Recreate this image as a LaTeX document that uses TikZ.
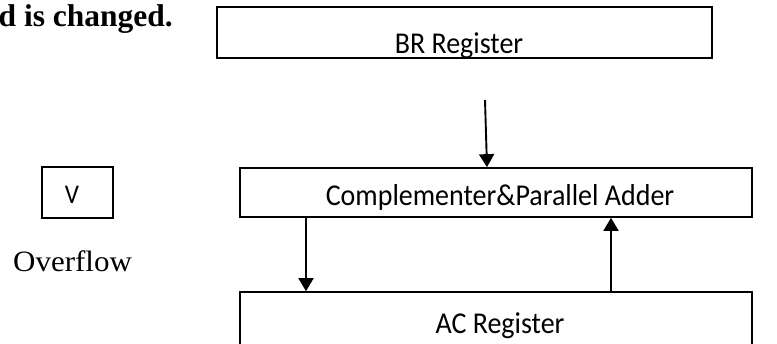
\documentclass[tikz,border=0pt]{standalone}
\usepackage{fontspec}
\setmainfont{Liberation Serif}
\newfontfamily\calib{Carlito}
\usetikzlibrary{arrows.meta}
\begin{document}
\begin{tikzpicture}[x=1pt,y=-1pt,
  box/.style={draw, line width=1.7pt, rectangle, inner sep=0pt},
  lbl/.style={anchor=base, inner sep=0pt, yscale=1.08, font=\calib\fontsize{28}{32}\selectfont},
  arr/.style={line width=1.9pt, -{Triangle[length=13pt,width=15pt]}}]
\useasboundingbox (0,0) rectangle (777,343);
\clip (0,0) rectangle (777,343);
% boxes
\node[box, minimum width=495pt, minimum height=51pt] (br) at (464.5,32.5) {};
\node[box, minimum width=512pt, minimum height=49pt] (comp) at (496,192.5) {};
\node[box, minimum width=512pt, minimum height=60pt] (ac) at (496,322) {};
\node[box, minimum width=71pt, minimum height=51pt] (v) at (77.5,192.5) {};
% labels
\begin{scope}
\clip (br.south west) rectangle (br.north east);
\node[lbl] (brl) at (459,53) {BR Register};
\end{scope}
\node[lbl] (compl) at (500,205) {Complementer\&Parallel Adder};
\node[lbl] (acl) at (500,333) {AC Register};
\node[lbl, font=\calib\fontsize{25}{28}\selectfont] (vl) at (72,203) {V};
\node[anchor=base west, inner sep=0pt, xscale=1.05, font=\fontsize{29.5}{32}\selectfont] (ovf) at (13,271) {Overflow};
\node[anchor=base east, inner sep=0pt, font=\bfseries\fontsize{31.5}{34}\selectfont] (hdr) at (173,26) {d is changed.};
% arrows
\coordinate (brin) at (485,100);
\draw[arr] (brin) -- (comp.north -| 487,0);
\draw[arr] (comp.south -| 306,0) -- (ac.north -| 306,0);
\draw[arr] (ac.north -| 611,0) -- (comp.south -| 611,0);
\end{tikzpicture}
\end{document}
